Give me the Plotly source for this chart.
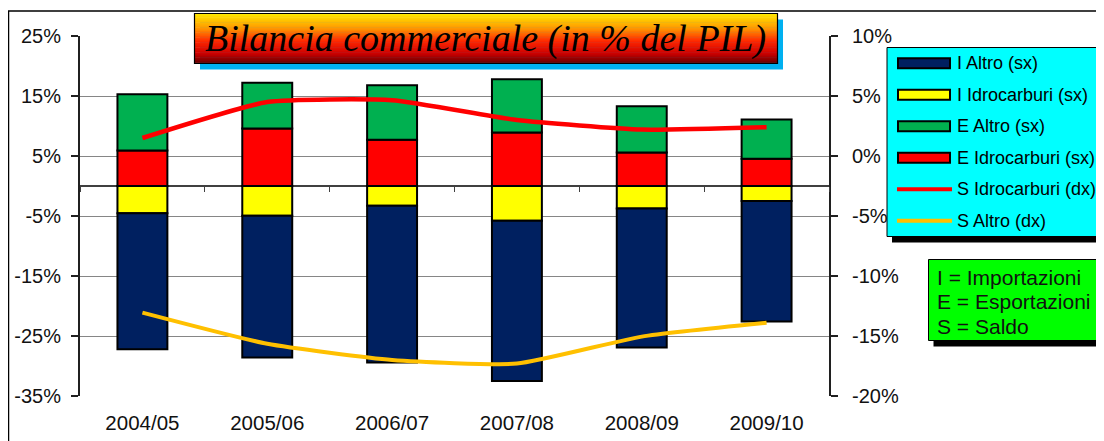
import plotly.graph_objects as go

# ---------------- data ----------------
years = ["2004/05", "2005/06", "2006/07", "2007/08", "2008/09", "2009/10"]
e_idro = [5.9, 9.6, 7.7, 8.9, 5.6, 4.55]          # E Idrocarburi (sx)
e_altro = [9.4, 7.6, 9.1, 8.9, 7.7, 6.55]         # E Altro (sx)
i_idro = [-4.55, -4.95, -3.3, -5.8, -3.75, -2.5]  # I Idrocarburi (sx)
i_altro = [-22.65, -23.65, -26.1, -26.7, -23.15, -20.1]  # I Altro (sx)
s_idro = [1.5, 4.5, 4.65, 3.0, 2.2, 2.4]          # S Idrocarburi (dx)
s_altro = [-13.05, -15.65, -17.0, -17.3, -15.05, -13.9]  # S Altro (dx)

left_ticks = [-35, -25, -15, -5, 5, 15, 25]
left_ticktext = ["-35%", "-25%", "-15%", "-5%", "5%", "15%", "25%"]
right_ticks = [-20, -15, -10, -5, 0, 5, 10]
right_ticktext = ["-20%", "-15%", "-10%", "-5%", "0%", "5%", "10%"]

title_text = "Bilancia commerciale (in % del PIL)"
legend_names = ["I Altro (sx)", "I Idrocarburi (sx)", "E Altro (sx)",
                "E Idrocarburi (sx)", "S Idrocarburi (dx)", "S Altro (dx)"]
note_lines = ["I = Importazioni", "E = Esportazioni", "S = Saldo"]

# ---------------- style ----------------
C_NAVY = "#002060"
C_YEL = "#FFFF00"
C_GREEN = "#00B050"
C_RED = "#FF0000"
C_ORANGE = "#FFC000"
FONT = "Liberation Sans"

OFF = 8  # page body margin
W, H = 1104, 441
ML, MT = 72, 28
PW, PH = 749, 360
MR = W - ML - PW
MB = H - MT - PH
LRANGE = [-35, 25]
RRANGE = [-20, 10]


def px(x):  # screen pixel -> paper
    return (x - OFF - ML) / PW


def py(y):
    return (OFF + MT + PH - y) / PH


fig = go.Figure()

bar_kw = dict(width=0.4, marker_line_color="black", marker_line_width=2,
              showlegend=False, hoverinfo="x+y+name")
fig.add_trace(go.Bar(x=years, y=e_idro, name=legend_names[3], marker_color=C_RED, **bar_kw))
fig.add_trace(go.Bar(x=years, y=e_altro, name=legend_names[2], marker_color=C_GREEN, **bar_kw))
fig.add_trace(go.Bar(x=years, y=i_idro, name=legend_names[1], marker_color=C_YEL, **bar_kw))
fig.add_trace(go.Bar(x=years, y=i_altro, name=legend_names[0], marker_color=C_NAVY, **bar_kw))

fig.add_trace(go.Scatter(x=years, y=s_idro, name=legend_names[4], mode="lines",
                         line=dict(color=C_RED, width=4.5, shape="spline", smoothing=0.5),
                         xaxis="x2", yaxis="y2", showlegend=False))
fig.add_trace(go.Scatter(x=years, y=s_altro, name=legend_names[5], mode="lines",
                         line=dict(color=C_ORANGE, width=4, shape="spline", smoothing=0.5),
                         xaxis="x2", yaxis="y2", showlegend=False))

zero_pos = (0 - LRANGE[0]) / (LRANGE[1] - LRANGE[0])

fig.update_layout(
    width=W, height=H,
    margin=dict(l=ML, r=MR, t=MT, b=MB, pad=0, autoexpand=False),
    paper_bgcolor="white", plot_bgcolor="white",
    barmode="relative",
    font=dict(family=FONT, size=20, color="black"),
    showlegend=False,
    xaxis=dict(type="category", categoryorder="array", categoryarray=years,
               range=[-0.5, 5.5], showgrid=False, zeroline=False, showline=False,
               ticks="", ticklabelstandoff=12, automargin=False,
               tickfont=dict(family=FONT, size=20.5, color="#111111")),
    xaxis2=dict(type="category", categoryorder="array", categoryarray=years,
                range=[-0.5, 5.5], overlaying="x", anchor="free", position=zero_pos,
                side="bottom", showgrid=False, zeroline=False, showline=False,
                showticklabels=False, ticks="outside", tickson="boundaries",
                ticklen=5, tickcolor="#404040", tickwidth=1, automargin=False),
    yaxis=dict(range=LRANGE, tickvals=left_ticks, ticktext=left_ticktext,
               showgrid=True, gridcolor="#868686", gridwidth=1,
               zeroline=True, zerolinecolor="#404040", zerolinewidth=1.5,
               showline=True, linecolor="#202020", linewidth=2,
               ticks="outside", ticklen=7, tickcolor="#202020", tickwidth=1.5,
               ticklabelstandoff=6, automargin=False,
               tickfont=dict(family=FONT, size=20, color="#111111")),
    yaxis2=dict(range=RRANGE, tickvals=right_ticks, ticktext=right_ticktext,
                overlaying="y", side="right", anchor="x",
                showgrid=False, zeroline=False,
                showline=True, linecolor="#202020", linewidth=2,
                ticks="outside", ticklen=7, tickcolor="#202020", tickwidth=1.5,
                ticklabelstandoff=10, automargin=False,
                tickfont=dict(family=FONT, size=20, color="#111111")),
)

shapes = []
annotations = []


def rect(x0, y0, x1, y1, fill, line_color=None, line_width=0):
    shapes.append(dict(type="rect", xref="paper", yref="paper",
                       x0=px(x0), x1=px(x1), y0=py(y1), y1=py(y0),
                       fillcolor=fill,
                       line=dict(color=line_color or fill, width=line_width),
                       layer="above"))


# outer chart frame
shapes.append(dict(type="rect", xref="paper", yref="paper",
                   x0=px(8.5), x1=px(1130), y0=py(470), y1=py(11),
                   fillcolor="rgba(0,0,0,0)", line=dict(color="black", width=1.5),
                   layer="below"))

# ----- title box with gradient -----
tx0, ty0, tx1, ty1 = 194.5, 13.5, 777.5, 63.5
rect(tx0 + 5.5, ty0 + 6, tx1 + 5.5, ty1 + 6, "#00B0F0")
stops = [(0.0, (255, 235, 0)), (0.3, (255, 150, 0)), (0.55, (255, 40, 0)),
         (0.8, (205, 0, 0)), (1.0, (95, 0, 0))]


def grad(t):
    for (a, ca), (b, cb) in zip(stops[:-1], stops[1:]):
        if a <= t <= b:
            f = (t - a) / (b - a)
            return "rgb(%d,%d,%d)" % tuple(round(ca[i] + (cb[i] - ca[i]) * f) for i in range(3))
    return "rgb(%d,%d,%d)" % stops[-1][1]


N = 40
hstep = (ty1 - ty0) / N
for k in range(N):
    col = grad((k + 0.5) / N)
    rect(tx0, ty0 + k * hstep, tx1, ty0 + (k + 1) * hstep + 0.6, col)
shapes.append(dict(type="rect", xref="paper", yref="paper",
                   x0=px(tx0), x1=px(tx1), y0=py(ty1), y1=py(ty0),
                   fillcolor="rgba(0,0,0,0)", line=dict(color="black", width=1.2),
                   layer="above"))
annotations.append(dict(xref="paper", yref="paper", x=px((tx0 + tx1) / 2), y=py(39),
                        xanchor="center", yanchor="middle", showarrow=False,
                        text="<i>" + title_text + "</i>",
                        font=dict(family="Liberation Serif", size=38, color="black")))

# ----- legend box -----
lx0, ly0, lx1, ly1 = 887, 47.5, 1125, 236.5
rect(lx0 + 5, ly0 + 6, lx1 + 5, ly1 + 6, "black")
rect(lx0, ly0, lx1, ly1, "#00FFFF", "black", 1)
swatch = [("bar", C_NAVY), ("bar", C_YEL), ("bar", C_GREEN), ("bar", C_RED),
          ("line", C_RED), ("line", C_ORANGE)]
for i, (kind, col) in enumerate(swatch):
    cy = 63.3 + i * 31.5
    if kind == "bar":
        rect(898, cy - 5, 950, cy + 5, col, "black", 2)
    else:
        shapes.append(dict(type="line", xref="paper", yref="paper",
                           x0=px(897), x1=px(952), y0=py(cy), y1=py(cy),
                           line=dict(color=col, width=4), layer="above"))
    annotations.append(dict(xref="paper", yref="paper", x=px(955), y=py(cy),
                            xanchor="left", yanchor="middle", showarrow=False,
                            text=legend_names[i],
                            font=dict(family=FONT, size=18, color="black")))

# ----- note box -----
nx0, ny0, nx1, ny1 = 928.5, 259.5, 1100, 340.5
rect(nx0 + 5, ny0 + 6, nx1 + 5, ny1 + 6, "black")
rect(nx0, ny0, nx1, ny1, "#00FF00", "black", 1)
for j, t in enumerate(note_lines):
    annotations.append(dict(xref="paper", yref="paper", x=px(935), y=py(277 + j * 24.7),
                            xanchor="left", yanchor="middle", showarrow=False,
                            text=t, font=dict(family=FONT, size=21, color="#111111")))

fig.update_layout(shapes=shapes, annotations=annotations)
fig.write_html("out.html")
